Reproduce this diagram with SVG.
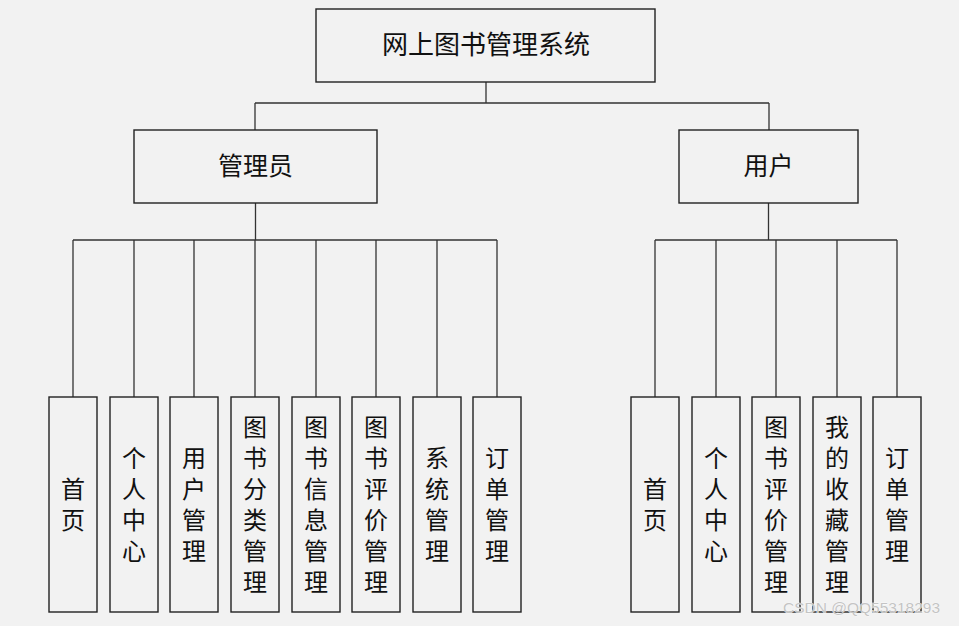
<svg xmlns="http://www.w3.org/2000/svg" width="959" height="626" viewBox="0 0 959 626">
<style>
.box{fill:#f2f2f2;stroke:#222;stroke-width:1.4}
.t{font-family:"Noto Sans CJK SC","Liberation Sans",sans-serif;font-size:24px;fill:#111;text-anchor:middle}
.v{writing-mode:vertical-rl;letter-spacing:7px}
.big{font-size:26px}
.mid{font-size:25px}
.c{fill:none;stroke:#333;stroke-width:1.3}
.wm{font-family:"Liberation Sans",sans-serif;font-size:15.5px;fill:#c4c4c4;stroke:#ffffff;stroke-width:0.6;paint-order:stroke}
</style>
<rect width="959" height="626" fill="#f2f2f2"/>
<g id="connectors">
<path class="c" d="M486,82V103M255,103H769M255,103V130M769,103V130"/>
<path class="c" d="M255.5,203V240M73,240H497M73,240V397M134,240V397M194,240V397M255,240V397M316,240V397M376,240V397M437,240V397M497,240V397"/>
<path class="c" d="M768.5,203V240M655,240H897M655,240V397M716,240V397M776,240V397M837,240V397M897,240V397"/>
</g>
<g id="root"><rect class="box" x="316" y="9" width="339" height="73"/><text class="t big" x="486" y="54">网上图书管理系统</text></g>
<g id="admin"><rect class="box" x="134" y="130" width="243" height="73"/><text class="t mid" x="255.5" y="175">管理员</text></g>
<g id="user"><rect class="box" x="679" y="130" width="179" height="73"/><text class="t mid" x="768.5" y="175">用户</text></g>
<g id="a1"><rect class="box" x="49" y="397" width="48" height="215"/><text class="t v" x="73" y="508">首页</text></g>
<g id="a2"><rect class="box" x="110" y="397" width="48" height="215"/><text class="t v" x="134" y="508">个人中心</text></g>
<g id="a3"><rect class="box" x="170" y="397" width="48" height="215"/><text class="t v" x="194" y="508">用户管理</text></g>
<g id="a4"><rect class="box" x="231" y="397" width="48" height="215"/><text class="t v" x="255" y="508">图书分类管理</text></g>
<g id="a5"><rect class="box" x="292" y="397" width="48" height="215"/><text class="t v" x="316" y="508">图书信息管理</text></g>
<g id="a6"><rect class="box" x="352" y="397" width="48" height="215"/><text class="t v" x="376" y="508">图书评价管理</text></g>
<g id="a7"><rect class="box" x="413" y="397" width="48" height="215"/><text class="t v" x="437" y="508">系统管理</text></g>
<g id="a8"><rect class="box" x="473" y="397" width="48" height="215"/><text class="t v" x="497" y="508">订单管理</text></g>
<g id="u1"><rect class="box" x="631" y="397" width="48" height="215"/><text class="t v" x="655" y="508">首页</text></g>
<g id="u2"><rect class="box" x="692" y="397" width="48" height="215"/><text class="t v" x="716" y="508">个人中心</text></g>
<g id="u3"><rect class="box" x="752" y="397" width="48" height="215"/><text class="t v" x="776" y="508">图书评价管理</text></g>
<g id="u4"><rect class="box" x="813" y="397" width="48" height="215"/><text class="t v" x="837" y="508">我的收藏管理</text></g>
<g id="u5"><rect class="box" x="873" y="397" width="48" height="215"/><text class="t v" x="897" y="508">订单管理</text></g>
<text class="wm" x="783" y="613">CSDN @QQ55318293</text>
</svg>
